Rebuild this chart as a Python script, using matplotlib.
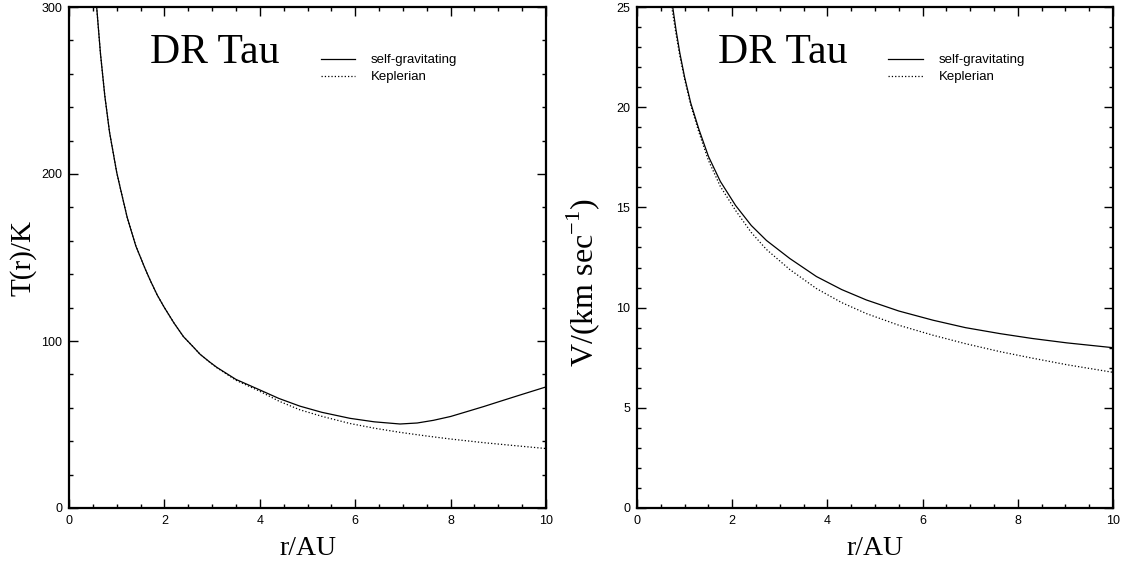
import matplotlib
matplotlib.use('Agg')
import matplotlib.pyplot as plt
from matplotlib.ticker import MultipleLocator

plt.rcParams['mathtext.fontset'] = 'custom'
plt.rcParams['mathtext.rm'] = 'Liberation Serif'
plt.rcParams['font.family'] = ['Liberation Sans', 'DejaVu Sans']

# left panel: temperature
r_T_sg = [0.58, 0.66, 0.75, 0.85, 1.00, 1.08, 1.22, 1.40, 1.60, 1.70, 1.85, 2.00, 2.20, 2.40,
          2.60, 2.75, 2.95, 3.10, 3.50, 4.00, 4.40, 4.84, 5.30, 5.89, 6.40, 6.94, 7.30, 7.64,
          8.00, 8.34, 8.70, 9.04, 9.45, 10.0]
T_sg = [300, 272, 247, 225, 201, 191, 174, 157, 143, 136.5, 127.5, 120, 110.8, 102.6,
        96.6, 92.0, 87.4, 84.2, 77.0, 70.7, 65.6, 61.0, 57.3, 53.7, 51.6, 50.3, 50.9, 52.5,
        54.8, 57.7, 60.8, 63.9, 67.6, 72.5]

r_T_kep = [0.58, 0.66, 0.75, 0.85, 1.00, 1.08, 1.22, 1.40, 1.60, 1.70, 1.85, 2.00, 2.20, 2.40,
           2.60, 2.75, 2.95, 3.10, 3.50, 4.00, 4.40, 4.84, 5.30, 5.89, 6.40, 6.94, 7.50,
           8.00, 8.70, 9.40, 10.0]
T_kep = [300, 272, 247, 225, 201, 191, 174, 157, 143, 136.5, 127.5, 120, 110.8, 102.6,
         96.6, 92.0, 87.3, 84.0, 76.5, 69.9, 64.0, 58.8, 54.9, 50.6, 47.8, 45.3, 43.1,
         41.3, 39.1, 37.2, 35.6]

# right panel: velocity
r_V_sg = [0.75, 0.82, 0.90, 1.00, 1.13, 1.30, 1.50, 1.75, 2.07, 2.40, 2.72, 3.21, 3.77,
          4.30, 4.82, 5.50, 6.22, 6.90, 7.63, 8.30, 9.03, 10.0]
V_sg = [25.0, 23.85, 22.7, 21.5, 20.2, 18.9, 17.55, 16.3, 15.1, 14.1, 13.35, 12.45, 11.55,
        10.9, 10.38, 9.83, 9.37, 9.0, 8.7, 8.46, 8.24, 8.0]

r_V_kep = [0.73, 0.82, 0.90, 1.00, 1.13, 1.30, 1.50, 1.75, 2.07, 2.40, 2.72, 3.21, 3.77,
           4.30, 4.82, 5.50, 6.22, 6.90, 7.63, 8.30, 9.03, 10.0]
V_kep = [25.0, 23.65, 22.55, 21.4, 20.1, 18.75, 17.35, 16.05, 14.85, 13.75, 12.9, 11.9, 10.95,
         10.25, 9.7, 9.12, 8.62, 8.2, 7.8, 7.48, 7.15, 6.77]

W, H = 1124, 572
fig = plt.figure(figsize=(W / 100, H / 100), dpi=100)
axL = fig.add_axes([69 / W, 1 - 508 / H, 477 / W, 501 / H])
axR = fig.add_axes([637 / W, 1 - 508 / H, 476 / W, 501 / H])

serif = 'Liberation Serif'


def style(ax, ymax, ymaj, ymin):
    ax.set_xlim(0, 10)
    ax.set_ylim(0, ymax)
    ax.xaxis.set_major_locator(MultipleLocator(2))
    ax.xaxis.set_minor_locator(MultipleLocator(0.5))
    ax.yaxis.set_major_locator(MultipleLocator(ymaj))
    ax.yaxis.set_minor_locator(MultipleLocator(ymin))
    ax.tick_params(which='both', direction='in', top=True, right=True,
                   labelsize=9, pad=5, width=1, colors='black')
    ax.tick_params(which='major', length=6.5)
    ax.tick_params(which='minor', length=3.2)
    for s in ax.spines.values():
        s.set_linewidth(1.6)
    ax.set_xlabel('r/AU', fontsize=20, family=serif)
    ax.xaxis.set_label_coords(0.5, -0.056)
    ax.text(0.17, 0.888, 'DR Tau', transform=ax.transAxes, fontsize=30,
            family=serif, va='baseline')


axL.plot(r_T_sg, T_sg, color='black', lw=0.9, label='self-gravitating')
axL.plot(r_T_kep, T_kep, color='black', lw=0.9, ls=':', label='Keplerian')
style(axL, 300, 100, 20)
axL.set_ylabel('T(r)/K', fontsize=21, family=serif)
axL.yaxis.set_label_coords(-0.068, 0.5)

axR.plot(r_V_sg, V_sg, color='black', lw=0.9, label='self-gravitating')
axR.plot(r_V_kep, V_kep, color='black', lw=0.9, ls=':', label='Keplerian')
style(axR, 25, 5, 1)
axR.set_ylabel('V/(km sec$^{-1}$)', fontsize=23, family=serif)
axR.yaxis.set_label_coords(-0.074, 0.45)

for ax in (axL, axR):
    ax.legend(loc='upper left', bbox_to_anchor=(0.528, 0.906), frameon=False,
              borderpad=0, borderaxespad=0, handlelength=2.6, handletextpad=1.2,
              labelspacing=0.35, prop={'family': 'Liberation Sans', 'size': 9.5})

fig.savefig('out.png', dpi=100)
